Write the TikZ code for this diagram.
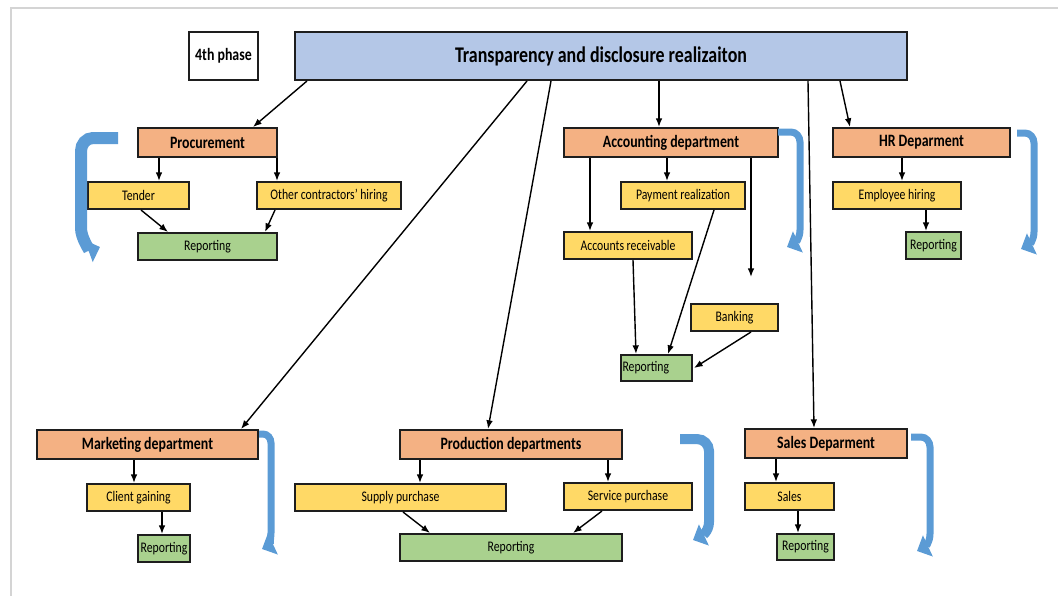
\documentclass[tikz,border=0pt]{standalone}
\usepackage{fontspec}
\setmainfont{Carlito}[FakeStretch=0.8]
\usetikzlibrary{arrows.meta,calc}

\definecolor{titlefill}{HTML}{B4C7E7}
\definecolor{deptfill}{HTML}{F4B183}
\definecolor{taskfill}{HTML}{FFD966}
\definecolor{repfill}{HTML}{A9D18E}
\definecolor{loopblue}{HTML}{5B9BD5}
\definecolor{boxline}{HTML}{1E1E1E}
\definecolor{framegray}{HTML}{D4D4D4}

\tikzset{
  sz/.style 2 args={minimum width=#1*0.75pt, minimum height=#2*0.75pt},
  box/.style={draw=boxline, line width=1.5pt, inner sep=0pt, anchor=north west, text=black},
  headbox/.style={box, fill=titlefill, font=\bfseries\fontsize{16.8}{19}\selectfont},
  phasebox/.style={box, fill=white, font=\bfseries\fontsize{13}{15}\selectfont},
  dept/.style={box, fill=deptfill, font=\bfseries\fontsize{13}{15}\selectfont},
  task/.style={box, fill=taskfill, font=\fontsize{11}{13}\selectfont},
  report/.style={box, fill=repfill, font=\fontsize{11}{13}\selectfont},
  link/.style={-{Latex[length=6.5pt,width=5pt]}, line width=1.05pt, draw=black},
  cycle/.style={draw=loopblue, line width=#1*0.75pt,
    -{Triangle[length=9pt,width=17pt]}},
}

\begin{document}
\begin{tikzpicture}[x=0.75pt,y=-0.75pt]
\useasboundingbox (0,0) rectangle (1058,596);

% page edge
\draw[framegray, line width=2pt] (11,596) -- (11,8) -- (1058,8);

% header
\node[phasebox, sz={69}{48}] (phase) at (188,31) {4th phase};
\node[headbox, sz={612}{48}] (title) at (294,31) {Transparency and disclosure realizaiton};

% procurement
\node[dept, sz={139}{29}] (proc) at (137,127) {Procurement};
\node[task, sz={101}{27}] (tender) at (87,181) {Tender};
\node[task, sz={144}{27}] (other) at (256,181) {Other contractors’ hiring};
\node[report, sz={139}{27}] (procrep) at (137,232) {Reporting};

% accounting
\node[dept, sz={214}{29}] (acc) at (563,127) {Accounting department};
\node[task, sz={124}{27}] (pay) at (620,181) {Payment realization};
\node[task, sz={128}{27}] (ar) at (563,231) {Accounts receivable};
\node[task, sz={87}{27}] (bank) at (690,303) {Banking};
\node[report, sz={71}{26}, text width=68*0.75pt, align=left] (accrep) at (620,354) {Reporting};
\coordinate (acchint) at (751,277);

% HR
\node[dept, sz={177}{29}] (hr) at (832,127) {HR Deparment};
\node[task, sz={128}{27}] (emp) at (832,181) {Employee hiring};
\node[report, sz={55}{27}] (hrrep) at (905,231) {Reporting};

% marketing
\node[dept, sz={221}{29}] (mkt) at (36,429) {Marketing department};
\node[task, sz={103}{27}] (client) at (86,483) {Client gaining};
\node[report, sz={52}{27}] (mktrep) at (137,534) {Reporting};

% production
\node[dept, sz={222}{29}] (prod) at (399,429) {Production departments};
\node[task, sz={211}{27}] (supply) at (294,483) {Supply purchase};
\node[task, sz={128}{27}] (service) at (563,482) {Service purchase};
\node[report, sz={222}{27}] (prodrep) at (399,533) {Reporting};

% sales
\node[dept, sz={162}{29}] (sales) at (744,428) {Sales Deparment};
\node[task, sz={89}{27}] (salestask) at (744,482) {Sales};
\node[report, sz={57}{26}] (salesrep) at (776,533) {Reporting};

% links from the header
\draw[link] ($(title.south west)+(13,0)$) -- ($(proc.north west)+(116,0)$);
\draw[link] ($(title.south west)+(233,0)$) -- ($(mkt.north west)+(205,0)$);
\draw[link] ($(title.south west)+(257,0)$) -- ($(prod.north west)+(89,0)$);
\draw[link] ($(title.south west)+(365,0)$) coordinate (t2a) -- (t2a |- acc.north);
\draw[link] ($(title.south west)+(514,0)$) -- ($(sales.north west)+(70,0)$);
\draw[link] ($(title.south west)+(546,0)$) -- ($(hr.north west)+(18,0)$);

% procurement links
\draw[link] ($(proc.south west)+(22,0)$) coordinate (p1) -- (p1 |- tender.north);
\draw[link] ($(proc.south east)+(-1,0)$) coordinate (p2) -- (p2 |- other.north);
\draw[link] ($(tender.south west)+(54,0)$) -- ($(procrep.north west)+(31,0)$);
\draw[link] ($(other.south west)+(19,0)$) -- ($(procrep.north west)+(128,0)$);

% accounting links
\draw[link] ($(acc.south west)+(27,0)$) coordinate (a1) -- (a1 |- ar.north);
\draw[link] ($(acc.south west)+(104,0)$) coordinate (a2) -- (a2 |- pay.north);
\draw[link] (acc.south west -| acchint) -- (acchint);
\draw[link] ($(ar.south west)+(70,0)$) -- ($(accrep.north west)+(16,0)$);
\draw[link] ($(pay.south west)+(94,0)$) -- ($(accrep.north west)+(48,0)$);
\draw[link] ($(bank.south west)+(61,0)$) -- ($(accrep.east)+(1,0)$);

% HR links
\draw[link] ($(hr.south west)+(70,0)$) coordinate (h1) -- (h1 |- emp.north);
\draw[link] ($(emp.south west)+(94,0)$) coordinate (h2) -- (h2 |- hrrep.north);

% marketing links
\draw[link] ($(mkt.south west)+(98,0)$) coordinate (m1) -- (m1 |- client.north);
\draw[link] ($(client.south west)+(76,0)$) coordinate (m2) -- (m2 |- mktrep.north);

% production links
\draw[link] ($(prod.south west)+(21,0)$) coordinate (r1) -- (r1 |- supply.north);
\draw[link] ($(prod.south west)+(209,0)$) coordinate (r2) -- (r2 |- service.north);
\draw[link] ($(supply.south west)+(109,0)$) -- ($(prodrep.north west)+(31,0)$);
\draw[link] ($(service.south west)+(39,0)$) -- ($(prodrep.north west)+(174,0)$);

% sales links
\draw[link] ($(sales.south west)+(32,0)$) coordinate (s1) -- (s1 |- salestask.north);
\draw[link] ($(salestask.south west)+(54,0)$) coordinate (s2) -- (s2 |- salesrep.north);

% cycle arrows beside each department
\draw[cycle=12] (118,138) -- (93,138) to[out=180,in=90] (81,151) -- (81,228) to[out=-90,in=200] (100,247);
\draw[cycle=7] (778,132) -- (791,132) to[out=0,in=90] (800,142) -- (800,230) to[out=-90,in=25] (787,247);
\draw[cycle=7] (1017,133) -- (1025,133) to[out=0,in=90] (1034,143) -- (1034,232) to[out=-90,in=25] (1021,249);
\draw[cycle=7] (259,434) -- (263,434) to[out=0,in=90] (271,443) -- (271,533) to[out=-90,in=25] (262,549);
\draw[cycle=10] (680,439) -- (697,439) to[out=0,in=90] (709,451) -- (709,522) to[out=-90,in=25] (693,540);
\draw[cycle=7] (911,437) -- (921,437) to[out=0,in=90] (930,447) -- (930,534) to[out=-90,in=25] (917,551);
\end{tikzpicture}
\end{document}
